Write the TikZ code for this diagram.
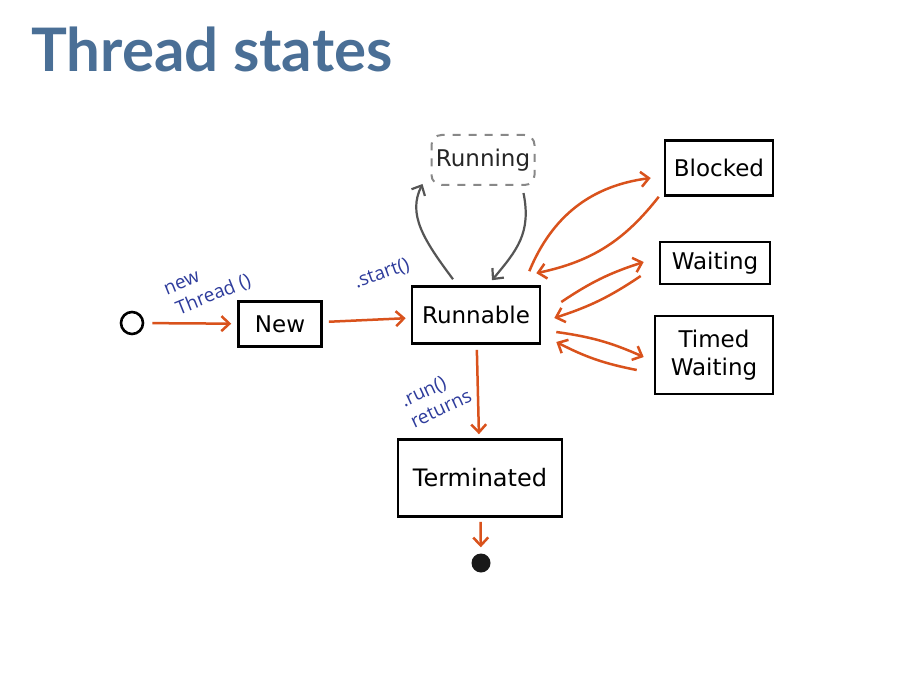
\documentclass[tikz,border=0pt]{standalone}
\usepackage{fontspec}
\setmainfont{DejaVu Sans}
\newfontfamily\titlefont{Lato}
\newfontfamily\notefont{Open Sans}
\usetikzlibrary{arrows.meta}
\definecolor{titleblue}{HTML}{4A6F96}
\definecolor{flowred}{HTML}{D9521C}
\definecolor{noteblue}{HTML}{2E3C9C}
\definecolor{loopgray}{HTML}{555555}
\tikzset{
  statebox/.style={draw=black, line width=2.6pt, inner sep=0pt, align=center,
    font=\fontsize{23}{28}\selectfont},
  flow/.style={draw=flowred, line width=2.5pt,
    -{Straight Barb[length=8pt,width=15pt,line width=2.5pt]}},
  loop/.style={draw=loopgray, line width=2.2pt,
    -{Straight Barb[length=8pt,width=15pt,line width=2.2pt]}},
  note/.style={text=noteblue, font=\notefont\fontsize{19}{23}\selectfont,
    inner sep=0pt, align=left},
}
\begin{document}
\begin{tikzpicture}[x=1pt,y=-1pt]
\useasboundingbox[fill=white] (0,0) rectangle (899,676);

% title
\node[anchor=base west, inner sep=0pt, text=titleblue,
  font=\titlefont\bfseries\fontsize{60}{66}\selectfont] (title) at (31,72) {Thread states};

% states
\node[draw=black, circle, line width=2.6pt, minimum size=22pt, inner sep=0pt] (init) at (132,323) {};
\node[statebox, minimum width=83pt, minimum height=45pt] (new) at (280,324) {New};
\node[statebox, minimum width=128pt, minimum height=57pt] (runnable) at (476,315) {Runnable};
\node[statebox, draw=loopgray!70, dashed, dash pattern=on 8pt off 8pt, rounded corners=10pt,
  line width=2pt, text=black!85, minimum width=103pt, minimum height=50pt] (running) at (483,160) {Running};
\node[statebox, minimum width=108pt, minimum height=55pt] (blocked) at (719,168) {Blocked};
\node[statebox, minimum width=110pt, minimum height=42pt] (waiting) at (715,263) {Waiting};
\node[statebox, minimum width=118pt, minimum height=78pt] (timed) at (714,355) {Timed\\Waiting};
\node[statebox, minimum width=164pt, minimum height=77pt, font=\fontsize{24}{28}\selectfont] (terminated) at (480,478) {Terminated};
\node[fill=black!90, circle, minimum size=19pt, inner sep=0pt] (final) at (481,563) {};

% transitions
\draw[flow, shorten <=8pt, shorten >=6pt] (init) -- (new);
\draw[flow, shorten <=6pt, shorten >=5pt] (new) -- (runnable);
\draw[flow, shorten <=5pt, shorten >=4pt] (runnable) -- (terminated);
\draw[flow, shorten <=4pt, shorten >=6pt] (terminated) -- (final);

\draw[flow] ([shift={(-12,-14)}]runnable.north east) to[bend left=30] ([shift={(-13,10)}]blocked.west);
\draw[flow] ([shift={(-5,0)}]blocked.south west) to[bend left=20] ([shift={(-5,-12)}]runnable.north east);
\draw[flow] ([shift={(20,-13)}]runnable.east) to[bend left=8] ([shift={(-15,-1)}]waiting.west);
\draw[flow] ([shift={(-18,13)}]waiting.west) to[bend left=8] ([shift={(13,3)}]runnable.east);
\draw[flow] ([shift={(15,17)}]runnable.east) to[bend left=8] ([shift={(-10,2)}]timed.west);
\draw[flow] ([shift={(-17,15)}]timed.west) to[bend left=8] ([shift={(15,27)}]runnable.east);

% scheduler loop
\draw[loop] ([shift={(-23,-6)}]runnable.north) .. controls +(-30,-40) and +(-15,30) .. ([shift={(-8,-2)}]running.south west);
\draw[loop] ([shift={(-12,7)}]running.south east) .. controls +(8,40) and +(25,-30) .. ([shift={(16,-5)}]runnable.north);

% method labels
\node[note, rotate=22] (lblthread) at (208,287) {new\\\hspace*{4pt}Thread ()};
\node[note, rotate=20] (lblstart) at (382,274) {.start()};
\node[note, rotate=25] (lblrun) at (436,398) {.run()\\returns};
\end{tikzpicture}
\end{document}
